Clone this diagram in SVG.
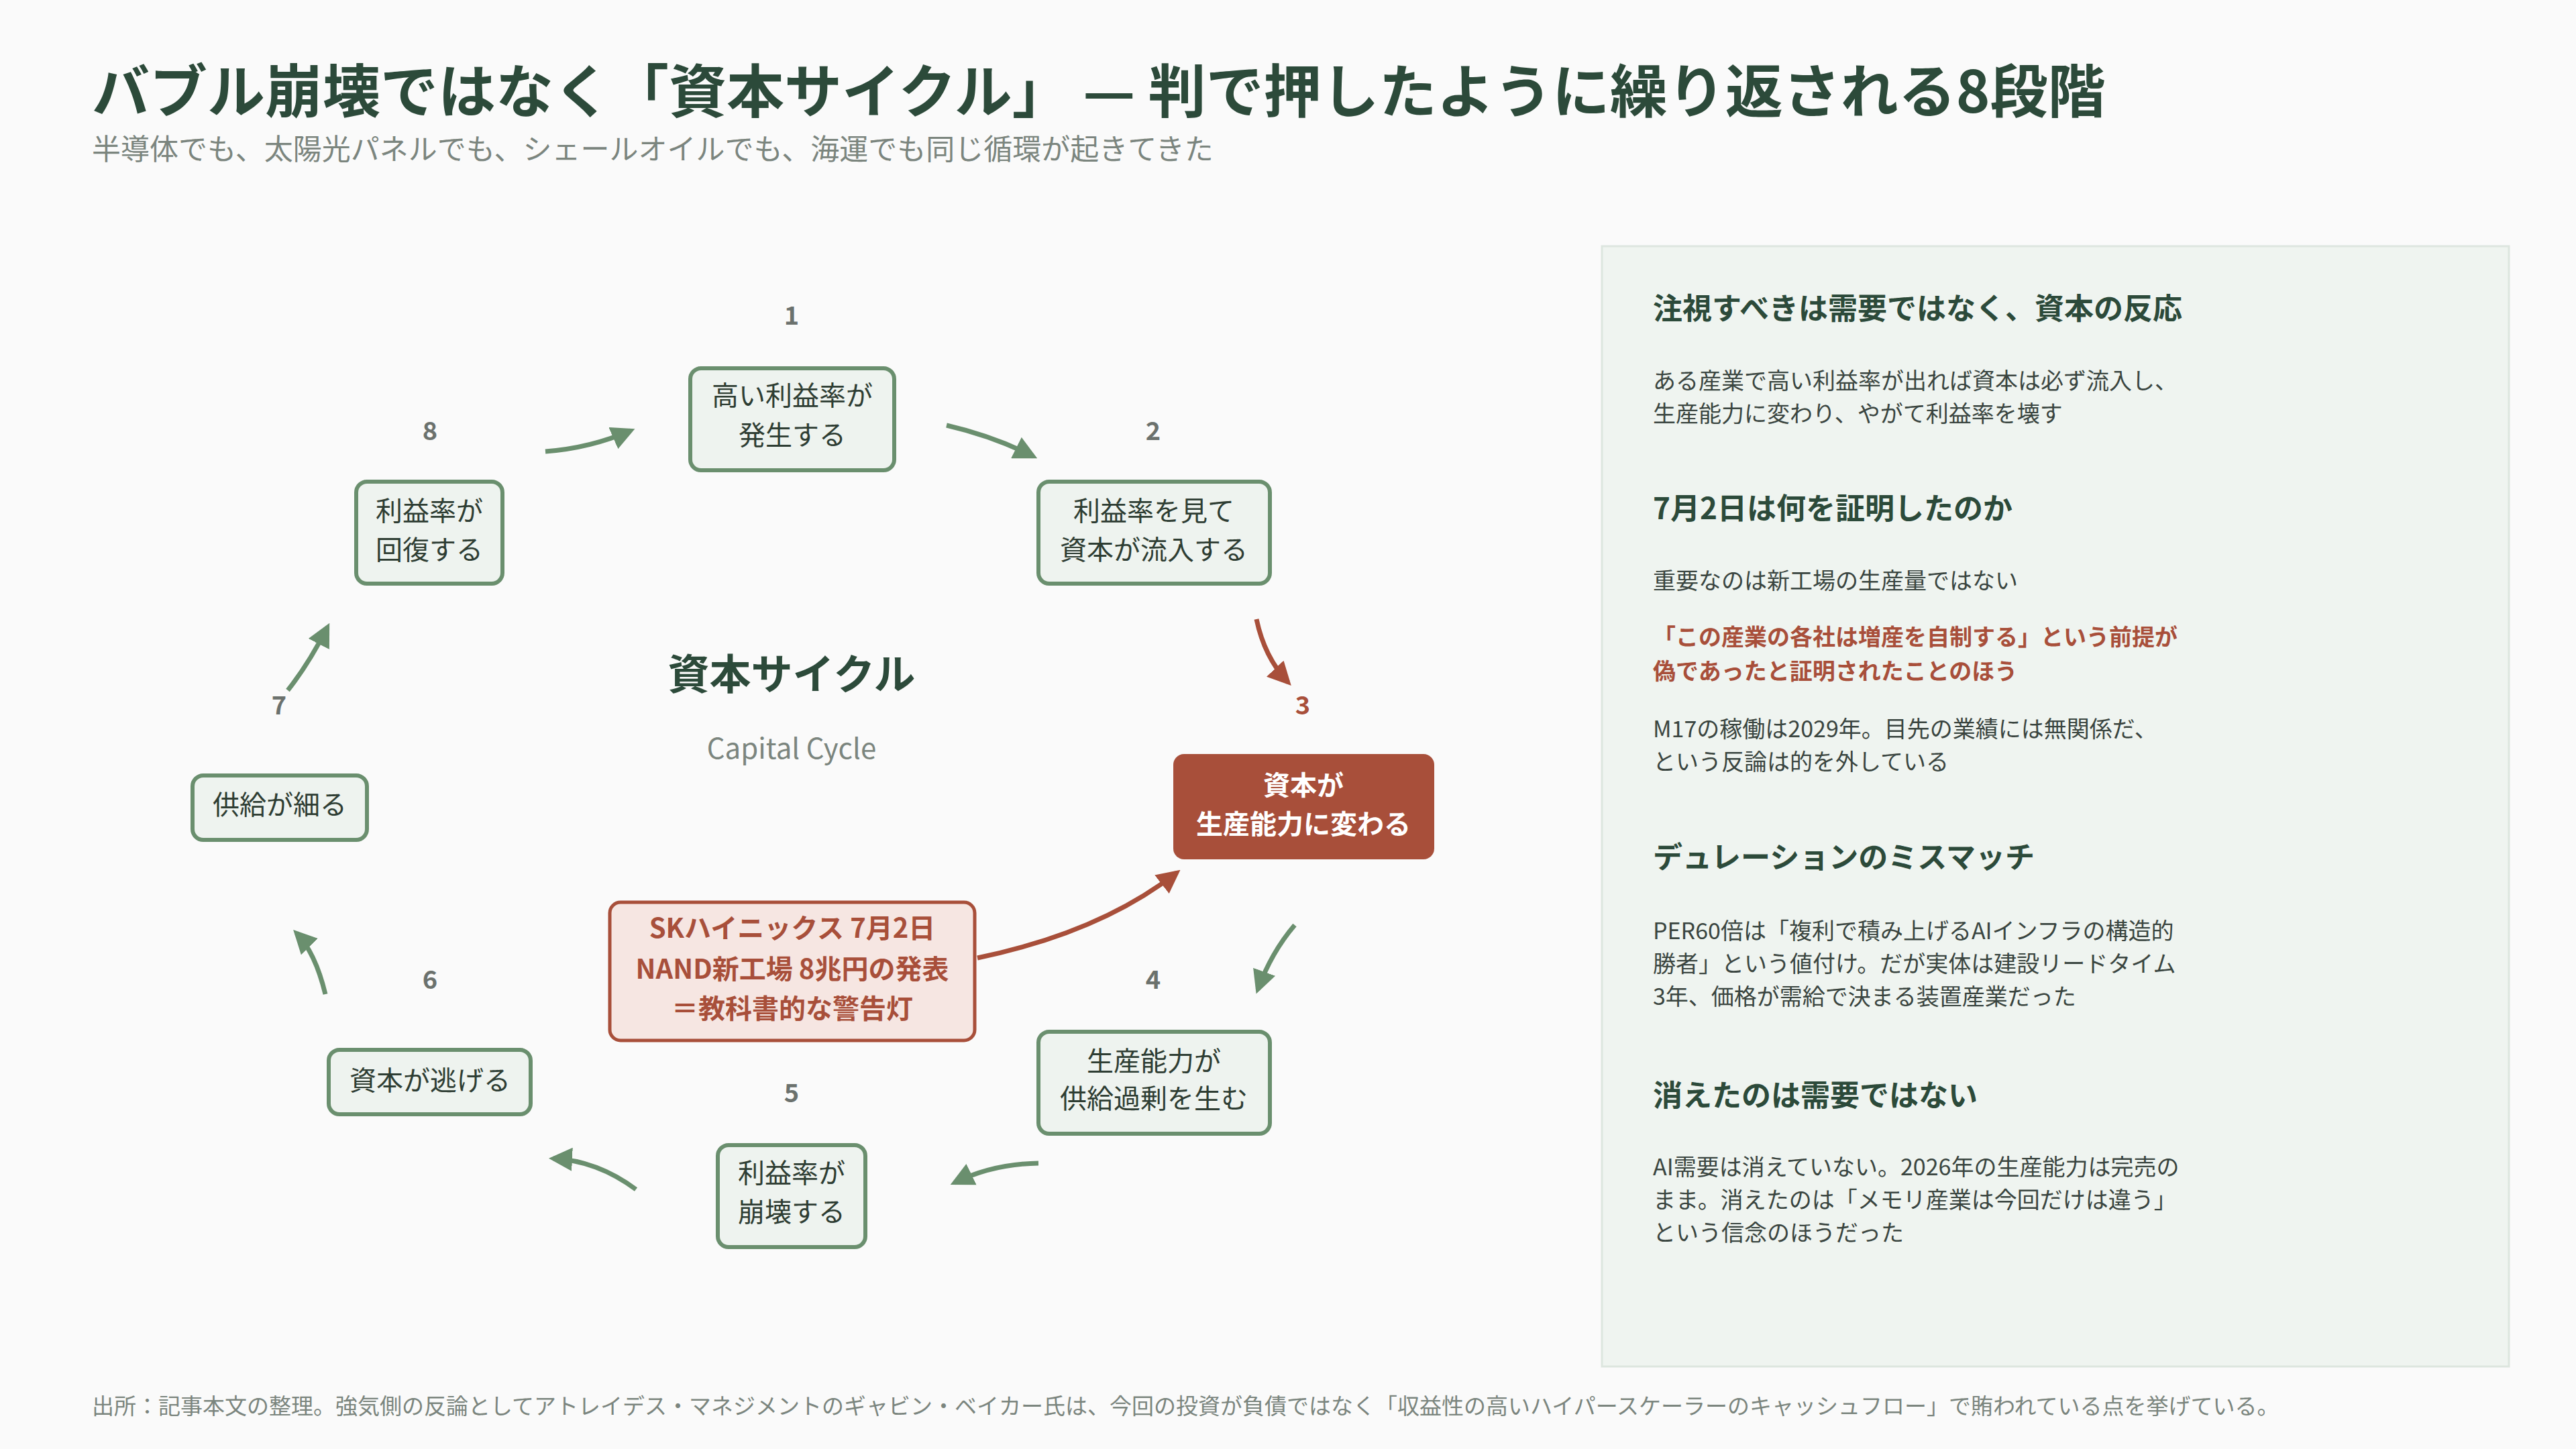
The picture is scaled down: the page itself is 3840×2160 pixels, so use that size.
<svg xmlns="http://www.w3.org/2000/svg" width="3840" height="2160" viewBox="0 0 3840 2160">
<defs>
<style>
text{font-family:"Noto Sans CJK JP","Noto Sans",sans-serif}
.title{font-size:86px;font-weight:700;fill:#2c4a3a}
.sub{font-size:43px;fill:#7b857e}
.node{fill:#eef3ef;stroke:#6a8f6e;stroke-width:6}
.nt{font-size:40px;fill:#2e3d33;text-anchor:middle}
.num{font-size:38px;font-weight:700;fill:#6b716d;text-anchor:middle}
.h{font-size:44px;font-weight:700;fill:#2c4a3a}
.b{font-size:34px;fill:#3a4540}
.rb{font-size:34px;font-weight:700;fill:#a84f3a}
.g{fill:none;stroke:#6a8f6e;stroke-width:7;marker-end:url(#ag)}
.r{fill:none;stroke:#a84f3a;stroke-width:7;marker-end:url(#ar)}
</style>
<marker id="ag" viewBox="0 0 10 10" refX="8" refY="5" markerWidth="5" markerHeight="5" orient="auto" markerUnits="strokeWidth"><path d="M0,0 L10,5 L0,10 z" fill="#6a8f6e"/></marker>
<marker id="ar" viewBox="0 0 10 10" refX="8" refY="5" markerWidth="5" markerHeight="5" orient="auto" markerUnits="strokeWidth"><path d="M0,0 L10,5 L0,10 z" fill="#a84f3a"/></marker>
</defs>
<rect width="3840" height="2160" fill="#fafafa"/>
<text class="title" x="137" y="168">バブル崩壊ではなく「資本サイクル」 — 判で押したように繰り返される8段階</text>
<text class="sub" x="137" y="238">半導体でも、太陽光パネルでも、シェールオイルでも、海運でも同じ循環が起きてきた</text>

<g id="connectors">
<path class="g" d="M813,673 Q880,668 940,642"/>
<path class="g" d="M1411,634 Q1480,650 1540,680"/>
<path class="r" d="M1873,923 Q1885,980 1920,1017"/>
<path class="g" d="M1930,1379 Q1895,1420 1875,1475"/>
<path class="g" d="M1548,1734 Q1480,1735 1423,1763"/>
<path class="g" d="M948,1773 Q890,1730 825,1727"/>
<path class="g" d="M485,1482 Q470,1420 442,1391"/>
<path class="g" d="M429,1029 Q460,990 488,935"/>
<path class="r" d="M1457,1428 Q1640,1390 1754,1301"/>
</g>

<g id="center">
<text x="1180" y="1028" text-anchor="middle" font-size="62" font-weight="700" fill="#2c4a3a">資本サイクル</text>
<text x="1180" y="1131" text-anchor="middle" font-size="42" fill="#7b857e">Capital Cycle</text>
</g>

<g id="n1"><text class="num" x="1180" y="484">1</text><rect class="node" x="1029" y="549" width="304" height="152" rx="16"/><text class="nt" x="1181" y="604">高い利益率が</text><text class="nt" x="1181" y="663">発生する</text></g>
<g id="n2"><text class="num" x="1719" y="656">2</text><rect class="node" x="1548" y="718" width="345" height="152" rx="16"/><text class="nt" x="1720" y="776">利益率を見て</text><text class="nt" x="1720" y="834">資本が流入する</text></g>
<g id="n3"><text class="num" x="1942" y="1065" fill="#a84f3a" style="fill:#a84f3a">3</text><rect x="1749" y="1124" width="389" height="157" rx="16" fill="#a84f3a"/><text class="nt" x="1943" y="1185" style="fill:#fff;font-weight:700">資本が</text><text class="nt" x="1943" y="1243" style="fill:#fff;font-weight:700">生産能力に変わる</text></g>
<g id="n4"><text class="num" x="1719" y="1474">4</text><rect class="node" x="1548" y="1538" width="345" height="152" rx="16"/><text class="nt" x="1720" y="1596">生産能力が</text><text class="nt" x="1720" y="1652">供給過剰を生む</text></g>
<g id="n5"><text class="num" x="1180" y="1643">5</text><rect class="node" x="1070" y="1707" width="220" height="152" rx="16"/><text class="nt" x="1180" y="1763">利益率が</text><text class="nt" x="1180" y="1821">崩壊する</text></g>
<g id="n6"><text class="num" x="641" y="1474">6</text><rect class="node" x="490" y="1565" width="301" height="96" rx="16"/><text class="nt" x="641" y="1625">資本が逃げる</text></g>
<g id="n7"><text class="num" x="416" y="1065">7</text><rect class="node" x="287" y="1156" width="260" height="96" rx="16"/><text class="nt" x="417" y="1214">供給が細る</text></g>
<g id="n8"><text class="num" x="641" y="656">8</text><rect class="node" x="531" y="718" width="218" height="152" rx="16"/><text class="nt" x="640" y="776">利益率が</text><text class="nt" x="640" y="834">回復する</text></g>

<g id="callout">
<rect x="909" y="1345" width="544" height="206" rx="16" fill="#f6e6e2" stroke="#a84f3a" stroke-width="5"/>
<text class="nt" x="1181" y="1398" style="fill:#a84f3a;font-weight:700">SKハイニックス 7月2日</text>
<text class="nt" x="1181" y="1459" style="fill:#a84f3a;font-weight:700">NAND新工場 8兆円の発表</text>
<text class="nt" x="1181" y="1518" style="fill:#a84f3a;font-weight:700">＝教科書的な警告灯</text>
</g>

<g id="panel">
<rect x="2388" y="367" width="1352" height="1670" fill="#eff4f0" stroke="#dde6df" stroke-width="3"/>
<text class="h" x="2464" y="476">注視すべきは需要ではなく、資本の反応</text>
<text class="b" x="2464" y="580">ある産業で高い利益率が出れば資本は必ず流入し、</text>
<text class="b" x="2464" y="629">生産能力に変わり、やがて利益率を壊す</text>
<text class="h" x="2464" y="774">7月2日は何を証明したのか</text>
<text class="b" x="2464" y="878">重要なのは新工場の生産量ではない</text>
<text class="rb" x="2464" y="962">「この産業の各社は増産を自制する」という前提が</text>
<text class="rb" x="2464" y="1013">偽であったと証明されたことのほう</text>
<text class="b" x="2464" y="1099">M17の稼働は2029年。目先の業績には無関係だ、</text>
<text class="b" x="2464" y="1148">という反論は的を外している</text>
<text class="h" x="2464" y="1294">デュレーションのミスマッチ</text>
<text class="b" x="2464" y="1400">PER60倍は「複利で積み上げるAIインフラの構造的</text>
<text class="b" x="2464" y="1449">勝者」という値付け。だが実体は建設リードタイム</text>
<text class="b" x="2464" y="1498">3年、価格が需給で決まる装置産業だった</text>
<text class="h" x="2464" y="1649">消えたのは需要ではない</text>
<text class="b" x="2464" y="1752">AI需要は消えていない。2026年の生産能力は完売の</text>
<text class="b" x="2464" y="1801">まま。消えたのは「メモリ産業は今回だけは違う」</text>
<text class="b" x="2464" y="1850">という信念のほうだった</text>
</g>

<text x="137" y="2108" font-size="33" fill="#7b857e">出所：記事本文の整理。強気側の反論としてアトレイデス・マネジメントのギャビン・ベイカー氏は、今回の投資が負債ではなく「収益性の高いハイパースケーラーのキャッシュフロー」で賄われている点を挙げている。</text>
</svg>
